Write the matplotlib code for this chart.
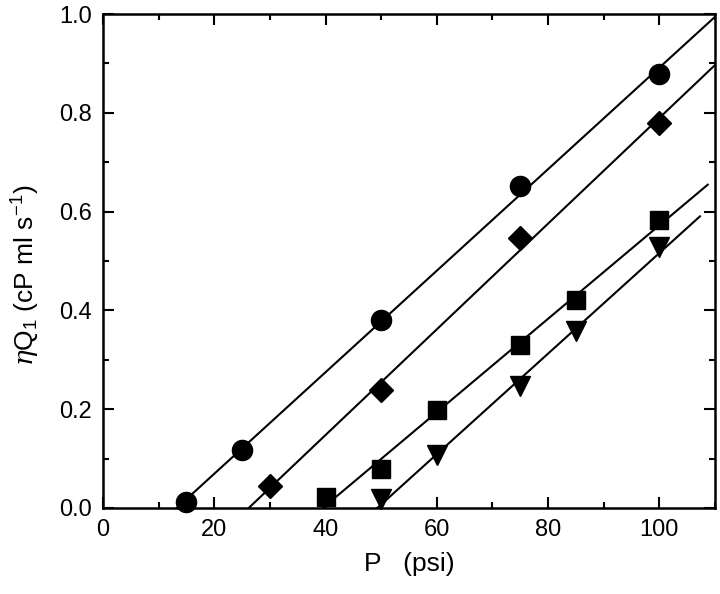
import numpy as np
import matplotlib
matplotlib.use('Agg')
import matplotlib.pyplot as plt
from matplotlib.ticker import MultipleLocator

plt.rcParams['font.family'] = ['Liberation Sans', 'DejaVu Sans']
plt.rcParams['mathtext.fontset'] = 'custom'
plt.rcParams['mathtext.rm'] = 'Liberation Sans'
plt.rcParams['mathtext.it'] = 'DejaVu Serif:italic'

# data
x_circ = [15, 25, 50, 75, 100]
y_circ = [0.013, 0.118, 0.381, 0.652, 0.878]
x_diam = [30, 50, 75, 100]
y_diam = [0.044, 0.238, 0.546, 0.779]
x_sq = [40, 50, 60, 75, 85, 100]
y_sq = [0.023, 0.079, 0.199, 0.329, 0.422, 0.584]
x_tri = [50, 60, 75, 85, 100]
y_tri = [0.018, 0.107, 0.246, 0.358, 0.528]

# where each fitted line stops on the right
x_end = [110, 110, 108.7, 107.3]

fig = plt.figure(figsize=(7.2, 5.94), dpi=100)
ax = fig.add_axes([0.143, 0.1448, 0.85, 0.8316])

series = [(x_circ, y_circ, 'o', 14.5), (x_diam, y_diam, 'D', 12),
          (x_sq, y_sq, 's', 13), (x_tri, y_tri, 'v', 15)]
for (xs, ys, m, ms), xe in zip(series, x_end):
    k, b = np.polyfit(xs, ys, 1)
    xl = np.array([-b / k, xe])
    ax.plot(xl, k * xl + b, color='black', lw=1.5, zorder=2)
    ax.plot(xs, ys, m, color='black', ms=ms, zorder=3, clip_on=False)

ax.set_xlim(0, 110)
ax.set_ylim(0, 1.0)
ax.xaxis.set_major_locator(MultipleLocator(20))
ax.xaxis.set_minor_locator(MultipleLocator(10))
ax.yaxis.set_major_locator(MultipleLocator(0.2))
ax.yaxis.set_minor_locator(MultipleLocator(0.1))
ax.tick_params(which='both', direction='in', top=True, right=True, width=1.5)
ax.tick_params(which='major', length=8, labelsize=17, pad=8)
ax.tick_params(which='minor', length=4)
for s in ax.spines.values():
    s.set_linewidth(1.8)

ax.set_xlabel('P   (psi)', fontsize=19, labelpad=8)
ax.set_ylabel(r'$\eta$Q$_1$ (cP ml s$^{-1}$)', fontsize=19, labelpad=8)
ax.yaxis.set_label_coords(-0.1, 0.47)

fig.savefig('out.png', dpi=100)
